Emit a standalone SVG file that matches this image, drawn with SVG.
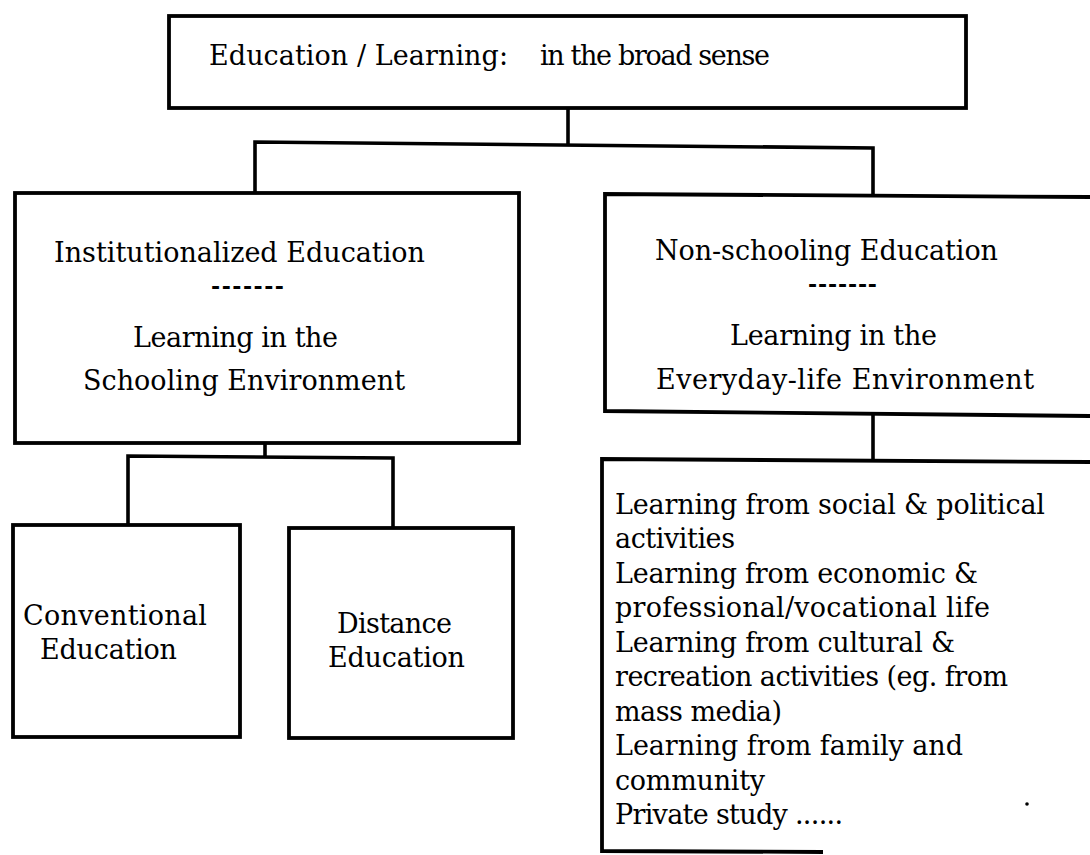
<svg xmlns="http://www.w3.org/2000/svg" width="1090" height="855" viewBox="0 0 1090 855">
<style>
.box{fill:none;stroke:#000;stroke-width:3.8;stroke-linejoin:miter}
.con{fill:none;stroke:#000;stroke-width:3.6}
text{font-family:"DejaVu Serif","Liberation Serif",serif;font-size:27px;fill:#000}
.dash{font-weight:bold;font-size:22px}
</style>
<rect width="1090" height="855" fill="#fff"/>
<g id="connectors">
<polyline class="con" points="568,108 568,145"/>
<polyline class="con" points="255,192 255,142 873,148 873,196"/>
<polyline class="con" points="265,443 265,457"/>
<polyline class="con" points="128,525 128,456 393,458 393,528"/>
<polyline class="con" points="873,414 873,461"/>
</g>
<g id="root">
<rect class="box" x="169" y="16" width="797" height="92"/>
<text x="209" y="65" textLength="299">Education / Learning:</text>
<text x="540" y="65" textLength="230" font-size="26">in the broad sense</text>
</g>
<g id="institutionalized">
<rect class="box" x="15" y="193" width="504" height="250"/>
<text x="54" y="262" textLength="371">Institutionalized Education</text>
<text class="dash" x="211" y="294" textLength="73">-------</text>
<text x="133" y="347" textLength="205">Learning in the</text>
<text x="83" y="390" textLength="322">Schooling Environment</text>
</g>
<g id="nonschooling">
<path class="box" d="M1090,197 L605,194 L605,411 L1090,416"/>
<text x="655" y="260" textLength="343">Non-schooling Education</text>
<text class="dash" x="808" y="292" textLength="69">-------</text>
<text x="730" y="345" textLength="207">Learning in the</text>
<text x="656" y="389" textLength="378">Everyday-life Environment</text>
</g>
<g id="conventional">
<rect class="box" x="13" y="525" width="227" height="212"/>
<text x="23" y="625" textLength="184">Conventional</text>
<text x="40" y="659" textLength="137">Education</text>
</g>
<g id="distance">
<rect class="box" x="289" y="528" width="224" height="210"/>
<text x="337" y="633" textLength="115">Distance</text>
<text x="328" y="667" textLength="137">Education</text>
</g>
<g id="everyday-list">
<path class="box" d="M1090,462 L602,459 L602,851 L823,852"/>
<text x="615" y="514" textLength="430">Learning from social &amp; political</text>
<text x="615" y="548" textLength="120">activities</text>
<text x="615" y="583" textLength="363">Learning from economic &amp;</text>
<text x="615" y="617" textLength="375">professional/vocational life</text>
<text x="615" y="652" textLength="340">Learning from cultural &amp;</text>
<text x="615" y="686" textLength="393">recreation activities (eg. from</text>
<text x="615" y="721" textLength="167">mass media)</text>
<text x="615" y="755" textLength="348">Learning from family and</text>
<text x="615" y="790" textLength="150">community</text>
<text x="615" y="824" textLength="228">Private study ......</text>
<circle cx="1027" cy="804" r="1.8" fill="#000"/>
</g>
</svg>
